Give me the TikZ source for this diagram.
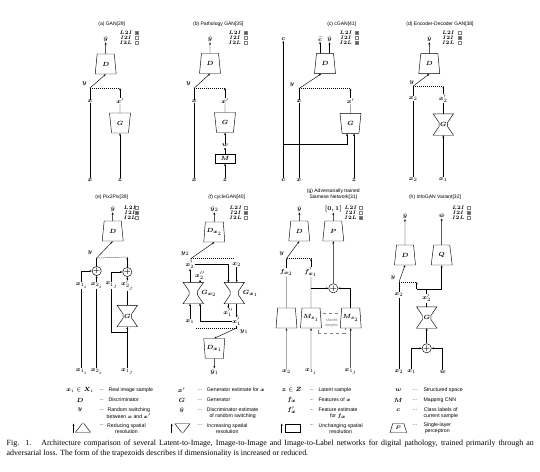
\documentclass[tikz,border=0pt]{standalone}
\usepackage{amsmath}
\usepackage{bm}
\usepackage[no-math]{fontspec}
\setmainfont{Liberation Serif}
\newfontfamily\hvf{Liberation Sans}
\usetikzlibrary{shapes.geometric,arrows.meta,calc}
\newcommand\mlab{\fontsize{6}{7}\selectfont}
\newcommand\tfont{\hvf\fontsize{5}{5.8}\selectfont}
\newcommand\lfont{\hvf\fontsize{5.2}{5.8}\selectfont}
\tikzset{
 lab/.style={inner sep=0.4pt, font=\mlab},
 ttl/.style={inner sep=0, font=\tfont, align=center},
 dnet/.style={trapezium, draw, fill=white, trapezium stretches=true, minimum width=21pt, minimum height=20pt, trapezium angle=80, inner sep=0.5pt, font=\mlab},
 gnet/.style={dnet, trapezium angle=100},
 hgn/.style={minimum width=20pt, minimum height=21pt, inner sep=0, font=\mlab},
 arr/.style={-{Stealth[length=2.4pt,width=1.9pt]}},
 sw/.style={dash pattern=on 1pt off 1pt},
 pl/.style={circle, draw, minimum size=7.5pt, inner sep=0, font=\fontsize{7}{7}\selectfont},
 cb/.style={draw=gray, line width=0.3pt, minimum size=3pt, inner sep=0},
 lgl/.style={inner sep=0, font=\fontsize{4}{4}\selectfont},
 ltx/.style={inner sep=0, font=\lfont, anchor=west, align=center},
 kdot/.style={inner sep=0, font=\lfont},
 lsym/.style={inner sep=0, font=\mlab},
}
\newcommand\hgd[1]{\draw (#1.north west) -- (#1.north east) -- ([xshift=-6pt,yshift=2pt]#1.east) -- ([xshift=-6pt,yshift=-2pt]#1.east) -- (#1.south east) -- (#1.south west) -- ([xshift=6pt,yshift=-2pt]#1.west) -- ([xshift=6pt,yshift=2pt]#1.west) -- cycle;}
\newcommand\chk[7]{%
 \node[lgl] (#1-l1) at (#2,#4) {$\bm{L2I}$};
 \node[lgl] (#1-l2) at (#2,{#4+4.8}) {$\bm{I2I}$};
 \node[lgl] (#1-l3) at (#2,{#4+9.6}) {$\bm{I2L}$};
 \node[cb,fill=#5] (#1-b1) at (#3,#4) {};
 \node[cb,fill=#6] (#1-b2) at (#3,{#4+4.8}) {};
 \node[cb,fill=#7] (#1-b3) at (#3,{#4+9.6}) {};}
\newcommand\kdt[6]{\node[kdot] (#1-d) at (#2,#4) {...}; \node[ltx] (#1-t) at (#3,#5) {#6};}
\colorlet{on}{black!65}
\colorlet{off}{white}
\begin{document}
\begin{tikzpicture}[x=1pt,y=-1pt,line width=0.45pt]
\fill[white] (0,0) rectangle (540,471);
\useasboundingbox (0,0) rectangle (540,471);
% ---------------- (a)
\node[ttl] (a-t) at (111.7,24) {(a) GAN[29]};
\node[lab] (a-yh) at (105.7,39) {$\hat{\bm y}$};
\node[dnet] (a-D) at (105.7,64) {$\bm D$};
\node[lab] (a-y) at (84.5,84) {$\bm y$};
\node[lab] (a-x) at (90,101.5) {$\bm x$};
\node[lab] (a-xp) at (120,101) {$\bm x'$};
\node[gnet] (a-G) at (120,123) {$\bm G$};
\node[lab] (a-xb) at (90,180) {$\bm x$};
\node[lab] (a-z) at (120,180) {$\bm z$};
\coordinate (a-s) at (90,88);
\coordinate (a-e) at (120,88);
\draw[arr] (a-D) -- (a-yh);
\draw (a-xb) -- (a-x);
\draw (a-x) -- (a-s);
\draw[arr] (a-s) -- (a-D.south);
\draw[sw] (a-s) -- (a-e);
\draw[arr] (a-xp) -- (a-e);
\draw (a-G) -- (a-xp);
\draw[arr] (a-z) -- (a-G);
\chk{a}{126}{137}{33}{on}{off}{off}
% ---------------- (b)
\node[ttl] (b-t) at (218.3,24) {(b) Pathology GAN[35]};
\node[lab] (b-yh) at (210,39) {$\hat{\bm y}$};
\node[dnet] (b-D) at (210,63.5) {$\bm D$};
\node[lab] (b-y) at (188.5,84) {$\bm y$};
\node[lab] (b-x) at (194.3,101.5) {$\bm x$};
\node[lab] (b-xp) at (225,101) {$\bm x'$};
\node[gnet] (b-G) at (225,122.5) {$\bm G$};
\node[lab] (b-w) at (225,145.5) {$\bm w$};
\node[draw, minimum width=20.5pt, minimum height=9.5pt, inner sep=0, font=\mlab] (b-M) at (225,158.7) {$\bm M$};
\node[lab] (b-xb) at (194.3,180) {$\bm x$};
\node[lab] (b-z) at (225,180) {$\bm z$};
\coordinate (b-s) at (194.3,88);
\coordinate (b-e) at (225,88);
\draw[arr] (b-D) -- (b-yh);
\draw (b-xb) -- (b-x);
\draw (b-x) -- (b-s);
\draw[arr] (b-s) -- (b-D.south);
\draw[sw] (b-s) -- (b-e);
\draw[arr] (b-xp) -- (b-e);
\draw (b-G) -- (b-xp);
\draw[arr] (b-w) -- (b-G);
\draw[arr] (b-M) -- (b-w);
\draw[arr] (b-z) -- (b-M);
\chk{b}{235}{245.5}{33}{on}{off}{off}
% ---------------- (c)
\node[ttl] (c-t) at (341.7,24) {(c) cGAN[41]};
\node[lab] (c-c) at (283.3,39) {$\bm c$};
\node[lab] (c-ct) at (320,39) {$\tilde{\bm c}$};
\node[lab] (c-yh) at (329.5,39) {$\hat{\bm y}$};
\node[dnet] (c-D) at (325,63.7) {$\bm D$};
\node[lab] (c-y) at (292,85) {$\bm y$};
\node[lab] (c-x) at (299,101.5) {$\bm x$};
\node[lab] (c-xp) at (350.5,101) {$\bm x'$};
\node[gnet] (c-G) at (350.5,123.3) {$\bm G$};
\node[lab] (c-cb) at (283.3,180) {$\bm c$};
\node[lab] (c-xb) at (299,180) {$\bm x$};
\node[lab] (c-z) at (354,180) {$\bm z$};
\coordinate (c-s) at (299,88.5);
\coordinate (c-e) at (350.5,88.5);
\coordinate (c-j) at (283.3,144);
\coordinate (c-j2) at (347,144);
\draw[arr] (c-cb) -- (c-c);
\draw[arr] (c-ct |- c-D.north) -- (c-ct);
\draw[arr] (c-yh |- c-D.north) -- (c-yh);
\draw (c-xb) -- (c-x);
\draw (c-x) -- (c-s);
\draw[arr] (c-s) -- ([xshift=-4pt]c-D.south);
\draw[sw] (c-s) -- (c-e);
\draw[arr] (c-xp) -- (c-e);
\draw (c-G) -- (c-xp);
\draw[arr] (c-j) -- (c-j2) -- (c-j2 |- c-G.south);
\draw[arr] (c-z) -- (c-z |- c-G.south);
\chk{c}{346}{357}{33}{on}{off}{on}
% ---------------- (d)
\node[ttl] (d-t) at (440,24) {(d) Encoder-Decoder GAN[38]};
\node[lab] (d-yh) at (429.3,39) {$\hat{\bm y}$};
\node[dnet] (d-D) at (429.3,63.7) {$\bm D$};
\node[lab] (d-y) at (411.7,83) {$\bm y$};
\node[lab] (d-x2) at (413.3,98.5) {$\bm x_2$};
\node[lab] (d-x2p) at (443.3,98.5) {$\bm x'_2$};
\node[hgn] (d-G) at (443.3,124.5) {$\bm G$};
\hgd{d-G}
\node[lab] (d-bx2) at (413.3,179.5) {$\bm x_2$};
\node[lab] (d-bx1) at (443.3,179.5) {$\bm x_1$};
\coordinate (d-s) at (413.3,86);
\coordinate (d-e) at (443.3,86);
\draw[arr] (d-D) -- (d-yh);
\draw (d-bx2) -- (d-x2);
\draw (d-x2) -- (d-s);
\draw[arr] (d-s) -- (d-D.south);
\draw[sw] (d-s) -- (d-e);
\draw[arr] (d-x2p) -- (d-e);
\draw (d-G.north) -- (d-x2p);
\draw[arr] (d-bx1) -- (d-G.south);
\chk{d}{448.3}{459.3}{33}{off}{on}{off}
% ---------------- (e)
\node[ttl] (e-t) at (111.7,197.7) {(e) Pix2Pix[39]};
\node[lab] (e-yh) at (112.7,209) {$\hat{\bm y}$};
\node[dnet] (e-D) at (112.7,231) {$\bm D$};
\node[lab] (e-y) at (90,252.7) {$\bm y$};
\node[pl] (e-pL) at (96.7,271) {$\bm +$};
\node[pl] (e-pR) at (127.3,272) {$\bm +$};
\node[lab] (e-x1i) at (81.7,285.5) {$\bm x_{1_i}$};
\node[lab] (e-x2i) at (96.7,285.5) {$\bm x_{2_i}$};
\node[lab] (e-x1j) at (111.7,285.5) {$\bm x_{1_j}$};
\node[lab] (e-x2j) at (127.3,285.5) {$\bm x'_{2_j}$};
\node[hgn] (e-G) at (127.3,316) {$\bm G$};
\hgd{e-G}
\node[lab] (e-bx1i) at (81.7,371.7) {$\bm x_{1_i}$};
\node[lab] (e-bx2i) at (96.7,371.7) {$\bm x_{2_i}$};
\node[lab] (e-bx1j) at (127.3,371.7) {$\bm x_{1_j}$};
\coordinate (e-s) at (96.7,258);
\coordinate (e-e) at (127.3,257);
\coordinate (e-jl) at (111.7,332);
\coordinate (e-jb) at (127.3,332);
\draw[arr] (e-D) -- (e-yh);
\draw (e-pL) -- (e-s);
\draw[arr] (e-s) -- (e-D.south);
\draw[sw] (e-s) -- (e-e);
\draw[arr] (e-pR) -- (e-e);
\draw[arr] (e-x2i) -- (e-pL);
\draw[arr] (e-x1i) |- (e-pL);
\draw[arr] (e-x1j) |- (e-pR);
\draw[arr] (e-x2j) -- (e-pR);
\draw (e-G.north) -- (e-x2j);
\draw[arr] (e-bx1j) -- (e-G.south);
\draw (e-x1j) -- (e-jl) -- (e-jb);
\draw (e-bx1i) -- (e-x1i);
\draw (e-bx2i) -- (e-x2i);
\chk{e}{130}{136.7}{207.7}{off}{on}{off}
% ---------------- (f)
\node[ttl] (f-t) at (226.7,197.7) {(f) cycleGAN[40]};
\node[lab] (f-yh2) at (214.3,209) {$\hat{\bm y}_{2}$};
\node[dnet] (f-D2) at (214.3,232) {$\bm D_{\bm x_2}$};
\node[lab] (f-y2) at (185,254) {$\bm y_2$};
\node[lab] (f-xp2) at (190,264.5) {$\bm x'_2$};
\node[lab] (f-x2) at (236.7,264.5) {$\bm x_2$};
\node[lab] (f-xpp2) at (200,275.5) {$\bm x''_2$};
\node[hgn] (f-G2) at (193.3,293) {};
\hgd{f-G2}
\node[hgn] (f-G1) at (234.3,293) {};
\hgd{f-G1}
\node[lab] (f-gl2) at (209,293.3) {$\bm G_{\bm x_2}$};
\node[lab] (f-gl1) at (250.5,293.3) {$\bm G_{\bm x_1}$};
\node[lab] (f-xpp1) at (228.3,312.7) {$\bm x''_1$};
\node[lab] (f-xp1) at (236.7,321.7) {$\bm x'_1$};
\node[lab] (f-x1) at (190,321.7) {$\bm x_1$};
\node[lab] (f-y1) at (244,331.7) {$\bm y_1$};
\node[gnet] (f-D1) at (214.3,348.5) {$\bm D_{\bm x_1}$};
\node[lab] (f-yh1) at (214.3,371.7) {$\hat{\bm y}_{1}$};
\coordinate (f-s) at (191,258.5);
\coordinate (f-e) at (235,258.5);
\coordinate (f-t1) at (228.3,282.5);
\coordinate (f-b2) at (200,303.5);
\coordinate (f-s2) at (236.7,328);
\coordinate (f-e2) at (195,328);
\draw[arr] (f-D2) -- (f-yh2);
\draw (f-xp2) -- (f-s);
\draw[arr] (f-s) -- (f-D2.south);
\draw[sw] (f-s) -- (f-e);
\draw[arr] (f-G2.north -| f-xp2) -- (f-xp2);
\draw[arr] (f-G2.north -| f-xpp2) -- (f-xpp2);
\draw[arr] (f-xp2) -| (f-t1);
\draw[arr] (f-x2) -- (f-x2 |- f-G1.north);
\draw[arr] (f-G1.south -| f-xpp1) -- (f-xpp1);
\draw[arr] (f-G1.south -| f-xp1) -- (f-xp1);
\draw[arr] (f-x1) -- (f-x1 |- f-G2.south);
\draw[arr] (f-xp1) -| (f-b2);
\draw (f-xp1) -- (f-s2);
\draw[arr] (f-s2) -- (f-D1.north);
\draw[sw] (f-s2) -- (f-e2);
\draw[arr] (f-D1) -- (f-yh1);
\chk{f}{235.7}{246}{207.7}{off}{on}{off}
% ---------------- (g)
\node[ttl] (g-t) at (333.3,194.3) {(g) Adversarially trained\\Siamese Network[31]};
\node[lab] (g-yh) at (299.3,209) {$\hat{\bm y}$};
\node[lab] (g-01) at (333.3,209) {$\bm{[0,1]}$};
\node[dnet] (g-D) at (299.3,231) {$\bm D$};
\node[dnet] (g-P) at (333.3,231) {$\bm P$};
\node[lab] (g-y) at (281.7,253.5) {$\bm y$};
\node[lab] (g-fx2) at (286.5,272.3) {$\bm f_{\bm x_2}$};
\node[lab] (g-fx1) at (311,272.3) {$\bm f'_{\bm x_1}$};
\node[pl] (g-pl) at (333.3,288.3) {$\bm +$};
\node[draw=gray, dashed, minimum width=26.7pt, minimum height=20pt, inner sep=0, align=center, text=gray, font=\hvf\fontsize{3.8}{4.6}\selectfont] (g-sw) at (331.7,323.3) {shared\\weights};
\node[dnet] (g-M0) at (286.5,318) {\phantom{$\bm M$}};
\node[dnet] (g-M1) at (311,318) {$\bm M_{\bm s_1}$};
\node[dnet] (g-M2) at (350.7,318) {$\bm M_{\bm s_2}$};
\node[lab] (g-bx2) at (286.5,371.7) {$\bm x_2$};
\node[lab] (g-bx1i) at (311,371.7) {$\bm x_{1_i}$};
\node[lab] (g-bx1j) at (350.7,371.7) {$\bm x_{1_j}$};
\coordinate (g-s) at (286.5,258.5);
\coordinate (g-e) at (311,258.5);
\coordinate (g-j1) at (311,288.3);
\draw[arr] (g-D) -- (g-yh);
\draw[arr] (g-P) -- (g-01);
\draw[arr] (g-bx2) -- (g-M0);
\draw[arr] (g-bx1i) -- (g-M1);
\draw[arr] (g-bx1j) -- (g-M2);
\draw (g-M0) -- (g-fx2);
\draw (g-fx2) -- (g-s);
\draw[arr] (g-s) -- (g-D.south);
\draw[sw] (g-s) -- (g-e);
\draw (g-M1) -- (g-fx1);
\draw[arr] (g-fx1) -- (g-e);
\draw[arr] (g-j1) -- (g-pl);
\draw[arr] (g-M2) |- (g-pl);
\draw[arr] (g-pl) -- (g-P);
\chk{g}{350.7}{360.7}{207.7}{off}{off}{on}
% ---------------- (h)
\node[ttl] (h-t) at (435,197.7) {(h) InfoGAN Variant[32]};
\node[lab] (h-yh) at (405,215.7) {$\hat{\bm y}$};
\node[lab] (h-wh) at (441.7,215.7) {$\hat{\bm w}$};
\node[dnet] (h-D) at (405,255) {$\bm D$};
\node[dnet] (h-Q) at (441.7,255) {$\bm Q$};
\node[lab] (h-y) at (393,278) {$\bm y$};
\node[lab] (h-x2) at (399,295) {$\bm x_2$};
\node[lab] (h-x2p) at (426.7,298.3) {$\bm x'_2$};
\node[hgn] (h-G) at (426.7,317.5) {$\bm G$};
\hgd{h-G}
\node[pl] (h-pl) at (426.7,348.3) {$\bm +$};
\node[lab] (h-bx2) at (399,371.7) {$\bm x_2$};
\node[lab] (h-bx1) at (411.7,371.7) {$\bm x_1$};
\node[lab] (h-bw) at (442.7,371.7) {$\bm w$};
\coordinate (h-s) at (399,282);
\coordinate (h-e) at (416.7,282);
\coordinate (h-j) at (426.7,289);
\coordinate (h-jl) at (416.7,289);
\coordinate (h-jr) at (441.7,289);
\draw[arr] (h-D) -- (h-yh);
\draw[arr] (h-Q) -- (h-wh);
\draw (h-bx2) -- (h-x2);
\draw (h-x2) -- (h-s);
\draw[arr] (h-s) -- (h-D.south);
\draw[sw] (h-s) -- (h-e);
\draw (h-G.north) -- (h-x2p);
\draw (h-x2p) -- (h-j);
\draw (h-jl) -- (h-jr);
\draw[arr] (h-jl) -- (h-e);
\draw[arr] (h-jr) -- (h-Q);
\draw[arr] (h-pl) -- (h-G.south);
\draw[arr] (h-bx1) |- (h-pl);
\draw[arr] (h-bw) |- (h-pl);
\chk{h}{458.3}{468.3}{207.7}{off}{on}{off}
% ---------------- key
\node[lsym] (k1a-s) at (80,390) {$\bm x_i \in \bm X_i$};
\kdt{k1a}{101.7}{108.3}{390}{390}{Real image sample}
\node[lsym] (k1b-s) at (80,400) {$\bm D$};
\kdt{k1b}{101.7}{108.3}{400}{400}{Discriminator}
\node[lsym] (k1c-s) at (80,410) {$\bm y$};
\kdt{k1c}{101.7}{106.5}{410}{412.8}{Random switching\\between $\bm x$ and $\bm x'$}
\coordinate (i1a) at (73.5,432.5);
\coordinate (i1b) at (73.5,423.5);
\draw[arr] (i1a) -- (i1b);
\node[dnet, minimum width=15pt, minimum height=8.5pt, trapezium angle=69] (i1) at (83,428) {\strut};
\kdt{k1d}{101.7}{107}{425}{428.3}{Reducing spatial\\resolution}
\node[lsym] (k2a-s) at (181.7,390) {$\bm x'$};
\kdt{k2a}{200}{206.7}{390}{390}{Generator estimate for $\bm x$}
\node[lsym] (k2b-s) at (181.7,400) {$\bm G$};
\kdt{k2b}{200}{206.7}{400}{400}{Generator}
\node[lsym] (k2c-s) at (181.7,410) {$\hat{\bm y}$};
\kdt{k2c}{200}{206.7}{410}{412.8}{Discriminator estimate\\of random switching}
\coordinate (i2a) at (171.7,432.5);
\coordinate (i2b) at (171.7,423.5);
\draw[arr] (i2a) -- (i2b);
\node[gnet, minimum width=15pt, minimum height=8.5pt, trapezium angle=111] (i2) at (182.5,428) {\strut};
\kdt{k2d}{200}{206.7}{425}{428.3}{Increasing spatial\\resolution}
\node[lsym] (k3a-s) at (291.7,390) {$\bm z \in \bm Z$};
\kdt{k3a}{311.7}{318.3}{390}{390}{Latent sample}
\node[lsym] (k3b-s) at (291.7,400) {$\bm f_{\bm x}$};
\kdt{k3b}{311.7}{318.3}{400}{400}{Features of $\bm x$}
\node[lsym] (k3c-s) at (291.7,410) {$\bm f'_{\bm x}$};
\kdt{k3c}{311.7}{318.3}{410}{412.8}{Feature estimate\\for $\bm f_{\bm x}$}
\coordinate (i3a) at (281.7,432.5);
\coordinate (i3b) at (281.7,423.5);
\draw[arr] (i3a) -- (i3b);
\node[draw, minimum width=15pt, minimum height=8.5pt, inner sep=0] (i3) at (292.5,428) {};
\kdt{k3d}{311.7}{318.3}{425}{428.3}{Unchanging spatial\\resolution}
\node[lsym] (k4a-s) at (398.3,390) {$\bm w$};
\kdt{k4a}{415}{423.3}{390}{390}{Structured space}
\node[lsym] (k4b-s) at (398.3,400) {$\bm M$};
\kdt{k4b}{415}{423.3}{400}{400}{Mapping CNN}
\node[lsym] (k4c-s) at (398.3,410) {$\bm c$};
\kdt{k4c}{415}{423.3}{410}{412.8}{Class labels of\\current sample}
\node[dnet, minimum width=16.7pt, minimum height=9pt, trapezium angle=69, font=\fontsize{5}{5}\selectfont] (i4) at (398.3,428) {$\bm P$};
\kdt{k4d}{415}{423.3}{425}{428.3}{Single-layer\\perceptron}
% ---------------- caption
\node[anchor=west, inner sep=0, font=\fontsize{7.9}{9.5}\selectfont] (cap1) at (6.5,444) {\makebox[527pt][s]{Fig. 1.\hspace{4pt} Architecture comparison of several Latent-to-Image, Image-to-Image and Image-to-Label networks for digital pathology, trained primarily through an}};
\node[anchor=west, inner sep=0, font=\fontsize{7.9}{9.5}\selectfont] (cap2) at (6.5,454) {adversarial loss. The form of the trapezoids describes if dimensionality is increased or reduced.};
\end{tikzpicture}
\end{document}
